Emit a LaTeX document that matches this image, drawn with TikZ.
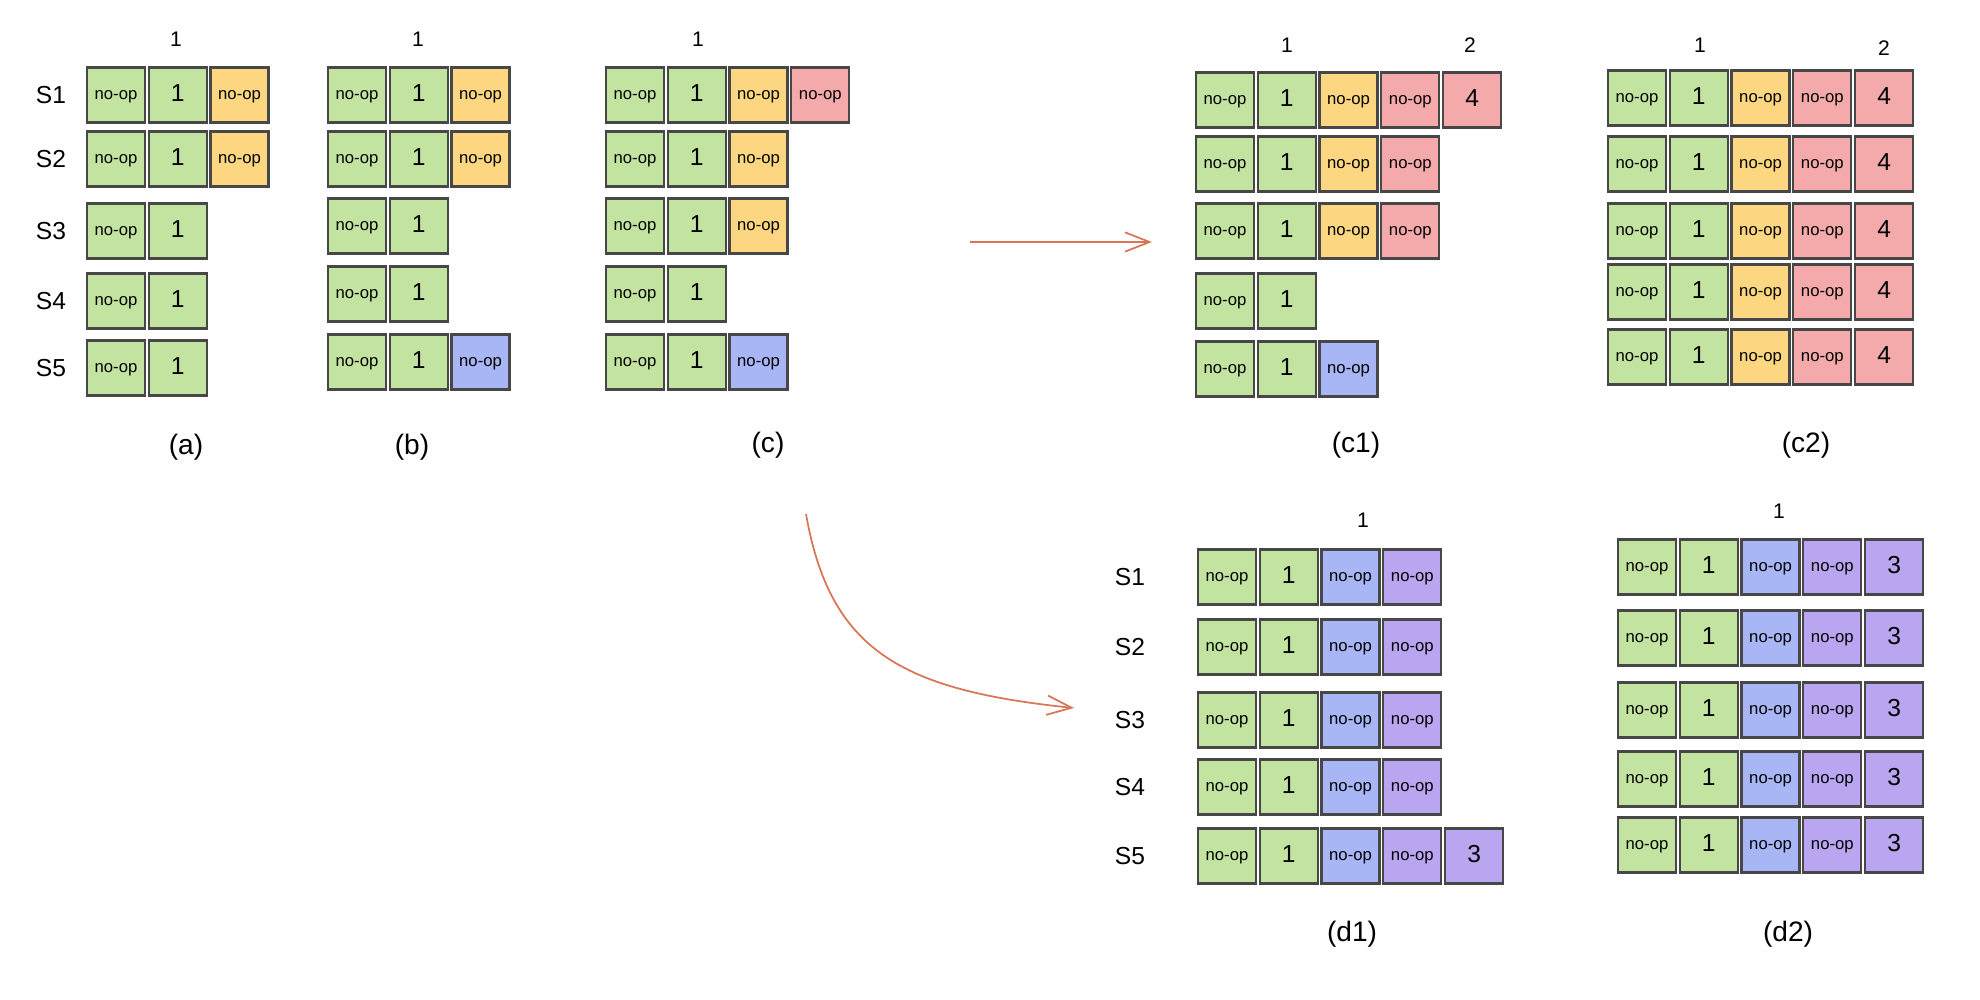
\documentclass[tikz,border=0pt]{standalone}
\usepackage{fontspec}
\setmainfont{Liberation Sans}
\usepackage{tikz}
\usetikzlibrary{arrows.meta, positioning}

\definecolor{gfill}{RGB}{194,228,160}
\definecolor{ofill}{RGB}{252,214,128}
\definecolor{rfill}{RGB}{244,170,170}
\definecolor{bfill}{RGB}{168,182,246}
\definecolor{pfill}{RGB}{186,166,240}
\definecolor{flowc}{RGB}{218,118,86}

\begin{document}
\begin{tikzpicture}[
  x=0.02cm, y=-0.02cm,
  node distance=0.03cm,
  cell/.style={rectangle, draw=black!72, line width=1.3pt, minimum width=1.16cm, minimum height=1.1cm, inner sep=0pt, text height=1ex, text depth=0pt, font=\fontsize{9.5}{10}\selectfont},
  num/.style={font=\fontsize{14}{16}\selectfont, text height=0.72em},
  gbox/.style={cell, fill=gfill},
  obox/.style={cell, fill=ofill},
  rbox/.style={cell, fill=rfill},
  bbox/.style={cell, fill=bfill},
  pbox/.style={cell, fill=pfill},
  slbl/.style={font=\fontsize{14}{16}\selectfont},
  hdr/.style={font=\fontsize{12}{14}\selectfont},
  capt/.style={font=\fontsize{16}{18}\selectfont},
  flow/.style={-{Straight Barb[length=14pt, width=11pt]}, draw=flowc, line width=1pt}
]
  \useasboundingbox (0,0) rectangle (1980,1000);

  % (a)
  \node[hdr] (ha) at (176,39) {1};
  \foreach \y [count=\r] in {95,159,231,301,368} {
    \node[slbl] (sa\r) at (51,\y) {S\r};
    \node[gbox] (a-\r-1) at (116,\y) {no-op};
    \node[gbox, num, right=of a-\r-1] (a-\r-2) {1};
  }
  \node[obox, right=of a-1-2] (a-1-3) {no-op};
  \node[obox, right=of a-2-2] (a-2-3) {no-op};
  \node[capt] (capa) at (186,447) {(a)};

  % (b)
  \node[hdr] (hb) at (418,39) {1};
  \foreach \y [count=\r] in {95,159,226,294,362} {
    \node[gbox] (b-\r-1) at (357,\y) {no-op};
    \node[gbox, num, right=of b-\r-1] (b-\r-2) {1};
  }
  \node[obox, right=of b-1-2] (b-1-3) {no-op};
  \node[obox, right=of b-2-2] (b-2-3) {no-op};
  \node[bbox, right=of b-5-2] (b-5-3) {no-op};
  \node[capt] (capb) at (412,447) {(b)};

  % (c)
  \node[hdr] (hc) at (698,39) {1};
  \foreach \y [count=\r] in {95,159,226,294,362} {
    \node[gbox] (c-\r-1) at (635,\y) {no-op};
    \node[gbox, num, right=of c-\r-1] (c-\r-2) {1};
  }
  \node[obox, right=of c-1-2] (c-1-3) {no-op};
  \node[rbox, right=of c-1-3] (c-1-4) {no-op};
  \node[obox, right=of c-2-2] (c-2-3) {no-op};
  \node[obox, right=of c-3-2] (c-3-3) {no-op};
  \node[bbox, right=of c-5-2] (c-5-3) {no-op};
  \node[capt] (capc) at (768,445) {(c)};

  % (c1)
  \node[hdr] (hc1a) at (1287,45) {1};
  \node[hdr] (hc1b) at (1470,45) {2};
  \foreach \y [count=\r] in {100,164,231,301,369} {
    \node[gbox] (ca-\r-1) at (1225,\y) {no-op};
    \node[gbox, num, right=of ca-\r-1] (ca-\r-2) {1};
  }
  \node[obox, right=of ca-1-2] (ca-1-3) {no-op};
  \node[rbox, right=of ca-1-3] (ca-1-4) {no-op};
  \node[rbox, num, right=of ca-1-4] (ca-1-5) {4};
  \node[obox, right=of ca-2-2] (ca-2-3) {no-op};
  \node[rbox, right=of ca-2-3] (ca-2-4) {no-op};
  \node[obox, right=of ca-3-2] (ca-3-3) {no-op};
  \node[rbox, right=of ca-3-3] (ca-3-4) {no-op};
  \node[bbox, right=of ca-5-2] (ca-5-3) {no-op};
  \node[capt] (capc1) at (1356,445) {(c1)};

  % (c2)
  \node[hdr] (hc2a) at (1700,45) {1};
  \node[hdr] (hc2b) at (1884,48) {2};
  \foreach \y [count=\r] in {98,164,231,292,357} {
    \node[gbox] (cb-\r-1) at (1637,\y) {no-op};
    \node[gbox, num, right=of cb-\r-1] (cb-\r-2) {1};
    \node[obox, right=of cb-\r-2] (cb-\r-3) {no-op};
    \node[rbox, right=of cb-\r-3] (cb-\r-4) {no-op};
    \node[rbox, num, right=of cb-\r-4] (cb-\r-5) {4};
  }
  \node[capt] (capc2) at (1806,445) {(c2)};

  % (d1)
  \node[hdr] (hd1) at (1363,520) {1};
  \foreach \y [count=\r] in {577,647,720,787,856} {
    \node[slbl] (sd\r) at (1130,\y) {S\r};
    \node[gbox] (da-\r-1) at (1227,\y) {no-op};
    \node[gbox, num, right=of da-\r-1] (da-\r-2) {1};
    \node[bbox, right=of da-\r-2] (da-\r-3) {no-op};
    \node[pbox, right=of da-\r-3] (da-\r-4) {no-op};
  }
  \node[pbox, num, right=of da-5-4] (da-5-5) {3};
  \node[capt] (capd1) at (1352,934) {(d1)};

  % (d2)
  \node[hdr] (hd2) at (1779,511) {1};
  \foreach \y [count=\r] in {567,638,710,779,845} {
    \node[gbox] (db-\r-1) at (1647,\y) {no-op};
    \node[gbox, num, right=of db-\r-1] (db-\r-2) {1};
    \node[bbox, right=of db-\r-2] (db-\r-3) {no-op};
    \node[pbox, right=of db-\r-3] (db-\r-4) {no-op};
    \node[pbox, num, right=of db-\r-4] (db-\r-5) {3};
  }
  \node[capt] (capd2) at (1788,934) {(d2)};

  % transitions
  \coordinate (toc1s) at (970,242);
  \coordinate (toc1e) at (1152,242);
  \coordinate (tod1s) at (806,514);
  \coordinate (tod1e) at (1074,708);
  \draw[flow] (toc1s) -- (toc1e);
  \draw[flow] (tod1s) .. controls (830,650) and (900,690) .. (tod1e);
\end{tikzpicture}
\end{document}
